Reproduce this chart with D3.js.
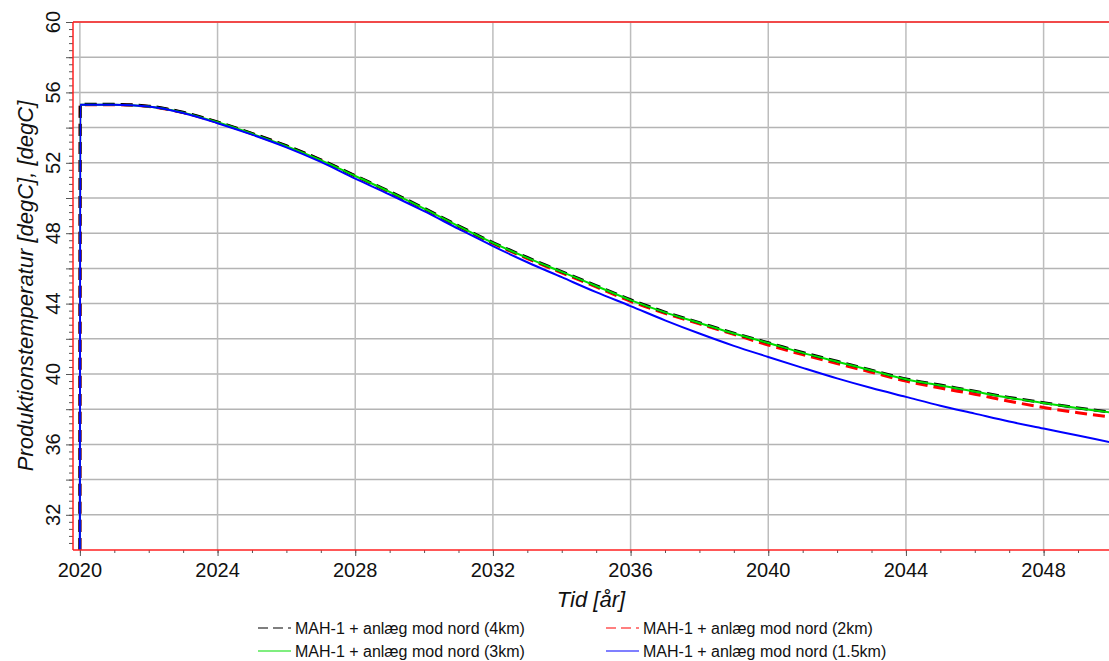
<!DOCTYPE html>
<html lang="da">
<head>
	<meta charset="UTF-8"/>
	<title>Produktionstemperatur</title>
	<script src="https://d3js.org/d3.v7.min.js"></script>
	<style>
		body { margin:0; background:#fff; overflow:hidden; }
		svg { display:block; font-family: Arial, "Liberation Sans", sans-serif; }
	</style>
</head>
<body>
<script>
	var w = 1109;	// Width of the SVG
	var h = 661;	// Height of the SVG

	// Years (first two points make the start-up step at 2020)
	var years = [2020, 2020.01, 2021, 2022, 2023, 2024, 2025, 2026, 2027, 2028, 2029,
				2030, 2031, 2032, 2033, 2034, 2035, 2036, 2037, 2038, 2039,
				2040, 2041, 2042, 2043, 2044, 2045, 2046, 2047, 2048, 2049, 2050];

	// Production temperature [degC] per scenario
	var temp4km = [30, 55.32, 55.32, 55.22, 54.87, 54.32, 53.67, 52.97, 52.17, 51.27, 50.37,
				49.42, 48.42, 47.47, 46.62, 45.82, 45.02, 44.22, 43.52, 42.92, 42.32,
				41.78, 41.22, 40.72, 40.22, 39.72, 39.37, 39.02, 38.67, 38.37, 38.07, 37.82];
	var temp2km = [30, 55.3, 55.3, 55.2, 54.85, 54.3, 53.65, 52.95, 52.15, 51.25, 50.33,
				49.38, 48.38, 47.42, 46.56, 45.75, 44.95, 44.13, 43.45, 42.85, 42.25,
				41.65, 41.1, 40.6, 40.1, 39.6, 39.2, 38.85, 38.45, 38.1, 37.8, 37.55];
	var temp3km = [30, 55.3, 55.3, 55.2, 54.85, 54.3, 53.65, 52.95, 52.15, 51.25, 50.35,
				49.4, 48.4, 47.45, 46.6, 45.8, 45.0, 44.2, 43.5, 42.9, 42.3,
				41.76, 41.2, 40.7, 40.2, 39.7, 39.35, 39.0, 38.65, 38.35, 38.05, 37.8];
	var temp15km = [30, 55.3, 55.3, 55.2, 54.83, 54.25, 53.6, 52.88, 52.05, 51.1, 50.2,
				49.25, 48.25, 47.27, 46.35, 45.5, 44.65, 43.86, 43.05, 42.3, 41.6,
				40.97, 40.35, 39.75, 39.2, 38.7, 38.2, 37.75, 37.3, 36.9, 36.5, 36.1];

	// Legend labels
	var labels = ["MAH-1 + anlæg mod nord (4km)", "MAH-1 + anlæg mod nord (2km)",
				"MAH-1 + anlæg mod nord (3km)", "MAH-1 + anlæg mod nord (1.5km)"];

	// Tick values
	var yLabelTicks = [32, 36, 40, 44, 48, 52, 56, 60];
	var xLabelTicks = [2020, 2024, 2028, 2032, 2036, 2040, 2044, 2048];

	// plot area
	var plotL = 73, plotR = 1109, plotT = 22, plotB = 550;

	var xScale = d3.scaleLinear()
				.domain([2019.8, 2049.9])
				.range([plotL, plotR]);

	var yScale = d3.scaleLinear()
				.domain([30, 60])
				.range([plotB, plotT]);

	var svg = d3.select("body")
				.append("svg")
				.attr("width", w)
				.attr("height", h);

	svg.append("clipPath")
		.attr("id", "plotclip")
		.append("rect")
		.attr("x", plotL)
		.attr("y", plotT)
		.attr("width", plotR - plotL)
		.attr("height", plotB - plotT);

	// horizontal grid every 2 degC
	svg.append("g")
		.selectAll("line")
		.data(d3.range(32, 60.1, 2))
		.enter()
		.append("line")
		.attr("x1", plotL)
		.attr("x2", plotR)
		.attr("y1", function(d){ return yScale(d); })
		.attr("y2", function(d){ return yScale(d); })
		.attr("stroke", "#b4b4b4")
		.attr("stroke-width", 1.5);

	// vertical grid every 4 years
	svg.append("g")
		.selectAll("line")
		.data(xLabelTicks)
		.enter()
		.append("line")
		.attr("x1", function(d){ return xScale(d); })
		.attr("x2", function(d){ return xScale(d); })
		.attr("y1", plotT)
		.attr("y2", plotB)
		.attr("stroke", "#bdbdbd")
		.attr("stroke-width", 1.5);

	// Axes: major + minor ticks
	var yMajor = d3.axisLeft(yScale).tickValues(d3.range(32, 60.1, 2)).tickSize(7).tickFormat("");
	var yMinor = d3.axisLeft(yScale).tickValues(d3.range(30.4, 60, 0.4)).tickSize(4).tickFormat("");
	var xMajor = d3.axisBottom(xScale).tickValues(xLabelTicks).tickSize(6).tickFormat("");
	var xMinor = d3.axisBottom(xScale).tickValues(d3.range(2020, 2050, 1)).tickSize(3).tickFormat("");

	[yMajor, yMinor].forEach(function(ax){
		svg.append("g")
			.attr("transform", "translate(" + plotL + ",0)")
			.call(ax)
			.call(function(g){ g.select(".domain").remove(); })
			.selectAll("line").attr("stroke", "#555");
	});
	[xMajor, xMinor].forEach(function(ax){
		svg.append("g")
			.attr("transform", "translate(0," + plotB + ")")
			.call(ax)
			.call(function(g){ g.select(".domain").remove(); })
			.selectAll("line").attr("stroke", "#555");
	});

	// y tick labels (rotated)
	svg.selectAll(".ylab")
		.data(yLabelTicks)
		.enter()
		.append("text")
		.attr("class", "ylab")
		.attr("transform", function(d){ return "translate(60," + yScale(d) + ") rotate(-90)"; })
		.attr("text-anchor", "middle")
		.attr("font-size", "20px")
		.attr("fill", "#111")
		.text(function(d){ return d; });

	// x tick labels
	svg.selectAll(".xlab")
		.data(xLabelTicks)
		.enter()
		.append("text")
		.attr("class", "xlab")
		.attr("x", function(d){ return xScale(d); })
		.attr("y", 577)
		.attr("text-anchor", "middle")
		.attr("font-size", "20px")
		.attr("fill", "#111")
		.text(function(d){ return d; });

	// series
	var series = [
		{ vals: temp2km, color: "#ff0000", width: 3, dash: "12,6" },
		{ vals: temp4km, color: "#000000", width: 3, dash: "12,6" },
		{ vals: temp3km, color: "#00dd00", width: 2, dash: null },
		{ vals: temp15km, color: "#0000ff", width: 2, dash: null }
	];

	var line = d3.line()
				.x(function(d){ return xScale(d[0]); })
				.y(function(d){ return yScale(d[1]); })
				.curve(d3.curveMonotoneX);

	var plot = svg.append("g").attr("clip-path", "url(#plotclip)");
	series.forEach(function(s){
		plot.append("path")
			.datum(years.map(function(y, i){ return [y, s.vals[i]]; }))
			.attr("d", line)
			.attr("fill", "none")
			.attr("stroke", s.color)
			.attr("stroke-width", s.width)
			.attr("stroke-dasharray", s.dash);
	});

	// red frame: top, left and bottom edges only
	var frame = [
		[plotL, plotT, w + 10, plotT],
		[plotL, plotT, plotL, plotB],
		[plotL, plotB, w + 10, plotB]
	];
	svg.append("g")
		.selectAll("line")
		.data(frame)
		.enter()
		.append("line")
		.attr("x1", function(d){ return d[0]; })
		.attr("y1", function(d){ return d[1]; })
		.attr("x2", function(d){ return d[2]; })
		.attr("y2", function(d){ return d[3]; })
		.attr("stroke", "#ff2020")
		.attr("stroke-width", 1.5);

	// Axis titles
	svg.append("text")
		.attr("transform", "translate(33," + ((plotT + plotB) / 2) + ") rotate(-90)")
		.attr("text-anchor", "middle")
		.attr("font-size", "22px")
		.attr("font-style", "italic")
		.attr("fill", "#111")
		.text("Produktionstemperatur [degC], [degC]");

	svg.append("text")
		.attr("x", (plotL + plotR) / 2)
		.attr("y", 607)
		.attr("text-anchor", "middle")
		.attr("font-size", "22px")
		.attr("font-style", "italic")
		.attr("fill", "#111")
		.text("Tid [år]");

	// legend
	var legendItems = [
		{ label: labels[0], color: "#000000", dash: "10,5", x: 258, y: 628 },
		{ label: labels[1], color: "#ff0000", dash: "10,5", x: 606, y: 628 },
		{ label: labels[2], color: "#00dd00", dash: null, x: 258, y: 651 },
		{ label: labels[3], color: "#0000ff", dash: null, x: 606, y: 651 }
	];
	var leg = svg.append("g").selectAll("g")
				.data(legendItems)
				.enter()
				.append("g");
	leg.append("line")
		.attr("x1", function(d){ return d.x; })
		.attr("x2", function(d){ return d.x + 33; })
		.attr("y1", function(d){ return d.y; })
		.attr("y2", function(d){ return d.y; })
		.attr("stroke", function(d){ return d.color; })
		.attr("stroke-width", 1.2)
		.attr("stroke-dasharray", function(d){ return d.dash; });
	leg.append("text")
		.attr("x", function(d){ return d.x + 37; })
		.attr("y", function(d){ return d.y + 6; })
		.attr("font-size", "16px")
		.attr("fill", "#111")
		.text(function(d){ return d.label; });
</script>
</body>
</html>
